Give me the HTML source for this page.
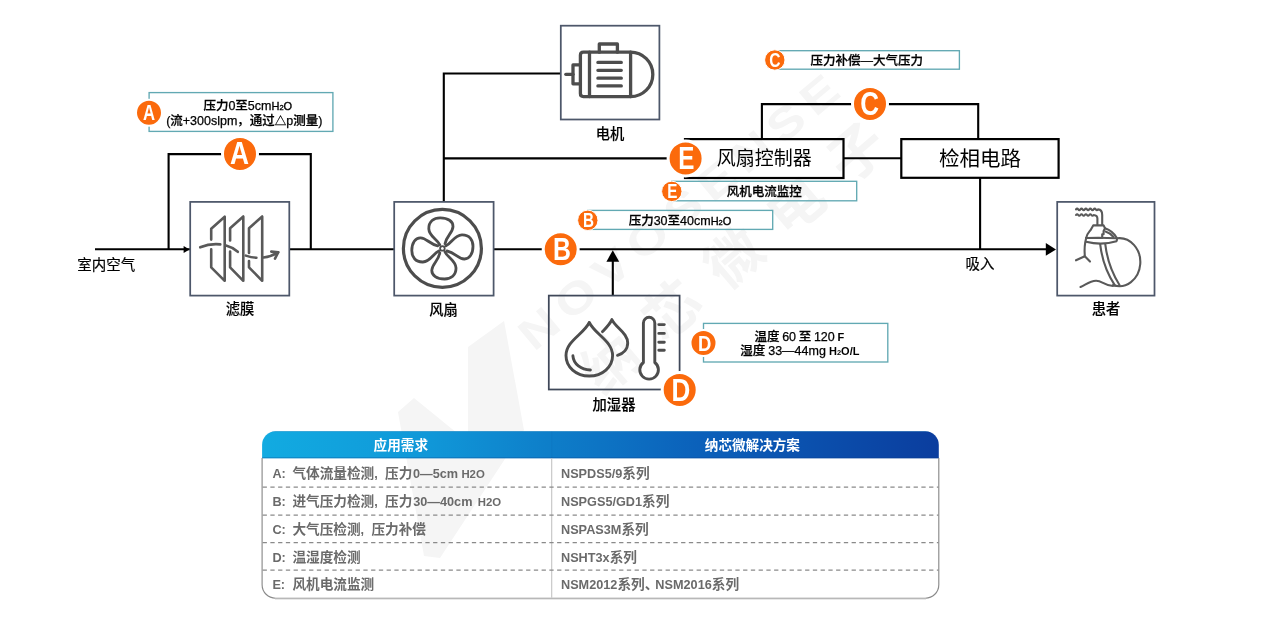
<!DOCTYPE html>
<html lang="zh-CN">
<head>
<meta charset="utf-8">
<title>呼吸机系统框图</title>
<style>
html,body{margin:0;padding:0;background:#fff;}
body{width:1269px;height:639px;overflow:hidden;position:relative;font-family:"Liberation Sans","Noto Sans CJK SC",sans-serif;}
svg{position:absolute;left:0;top:0;display:block;filter:blur(.4px);}
text{font-family:"Liberation Sans","Noto Sans CJK SC",sans-serif;}
.lbl{font-size:14.3px;font-weight:500;fill:#000;text-anchor:middle;stroke:#000;stroke-width:.15px;}
.lt{font-weight:400;font-size:14.5px;stroke-width:.2px;}
.big{font-size:20px;font-weight:400;fill:#000;text-anchor:middle;}
.note{font-size:12.5px;font-weight:500;fill:#000;text-anchor:middle;stroke:#000;stroke-width:.25px;}
.sub{font-size:11px;font-weight:400;stroke:#000;stroke-width:.35px;}
.s2{font-size:7.5px;}
.ln{stroke:#000;stroke-width:2.1;fill:none;}
.ibox{fill:none;stroke:#4d576a;stroke-width:1.75;}
.bbox{fill:none;stroke:#000;stroke-width:2.2;}
.nbox{fill:none;stroke:#62a9b3;stroke-width:1.35;}
.oc{fill:#fb6a0c;stroke:#fff;stroke-width:3;}
.oc.sm{stroke-width:2;}
.oc.xs{stroke-width:1;}
.ol{fill:#fff;font-weight:700;text-anchor:middle;}
.th{font-size:13.6px;font-weight:700;fill:#fff;text-anchor:middle;}
.td{font-size:13.65px;font-weight:700;fill:#6a6a6a;}
.la{font-size:12.7px;font-weight:700;stroke:none;}
.lh{font-size:11.4px;font-weight:700;stroke:none;}
.dash{stroke:#8a8a8a;stroke-width:1.2;stroke-dasharray:4.3 3.45;fill:none;}
.ico{fill:none;stroke:#555;stroke-width:2;stroke-linecap:round;stroke-linejoin:round;}
</style>
</head>
<body>
<svg width="1269" height="639" viewBox="0 0 1269 639">
<defs>
<linearGradient id="hg" x1="0" y1="0" x2="1" y2="0">
<stop offset="0" stop-color="#12abe1"/>
<stop offset="0.25" stop-color="#1097d8"/>
<stop offset="0.425" stop-color="#0e7ec9"/>
<stop offset="0.65" stop-color="#0b60ba"/>
<stop offset="1" stop-color="#0b3d9e"/>
</linearGradient>
<clipPath id="tclip"><rect x="262.1" y="431.2" width="676.7" height="167" rx="13.5" ry="13.5"/></clipPath>
</defs>

<!-- WATERMARK -->
<g id="wm" fill="#f5f5f5" style="font-weight:700">
<polygon points="398,412 414,398 468,442 468,347 504,321 524,430 440,558 424,556"/>
<text transform="translate(534 352.3) rotate(-39.8) scale(1.2 1)" font-size="44" letter-spacing="7">NOVOSENSE</text>
<text transform="translate(602.5 396.4) rotate(-40.5)" font-size="56" letter-spacing="25">纳芯微电子</text>
</g>

<!-- LINES -->
<g id="lines">
<path class="ln" d="M95 249.3H190"/>
<path class="ln" d="M168.6 249.3V154.1H310.8V249.3"/>
<path class="ln" d="M289.3 249.3H394.2"/>
<path class="ln" d="M493.6 249.3H1046.5"/>
<path class="ln" d="M443.8 201.9V73.5H560.8"/>
<path class="ln" d="M443.8 158.4H686"/>
<path class="ln" d="M843.5 158.3H901.3"/>
<path class="ln" d="M761.9 139V104.1H978.2V139"/>
<path class="ln" d="M980.1 177.8V249.3"/>
<path class="ln" d="M612.8 295.5V261"/>
<polygon points="183.6,245.9 189.6,249.4 183.6,252.9" fill="#000"/>
<polygon points="1045.8,243 1056,249.4 1045.8,255.8" fill="#000"/>
<polygon points="612.8,250.2 606.4,261.7 619.2,261.7" fill="#000"/>
</g>

<!-- BOXES -->
<g id="boxes">
<rect class="ibox" x="190.2" y="201.9" width="99.1" height="93.7"/>
<rect class="ibox" x="394.2" y="201.9" width="99.4" height="93.7"/>
<rect class="ibox" x="560.8" y="25.7" width="98.6" height="93.8"/>
<rect class="ibox" x="1057.2" y="201.9" width="97.3" height="93.7"/>
<rect class="ibox" x="548.8" y="295.6" width="130.8" height="93.9" style="stroke:#3f4859"/>
<rect class="bbox" x="685" y="139.1" width="158.5" height="38.9"/>
<rect class="bbox" x="901.3" y="139.1" width="157.3" height="38.7"/>
</g>

<!-- NOTES -->
<g id="notes">
<rect class="nbox" x="149.1" y="92.6" width="183.8" height="38.8"/>
<rect class="nbox" x="774.4" y="50.7" width="185" height="18.5"/>
<rect class="nbox" x="671.7" y="181.3" width="185" height="19.5"/>
<rect class="nbox" x="587.7" y="210.4" width="185" height="19"/>
<rect class="nbox" x="703.5" y="323.4" width="184.3" height="38.6"/>
</g>

<!-- CIRCLES -->
<g id="circles">
<circle class="oc" cx="240" cy="153.9" r="17.5"/>
<circle class="oc" cx="560.7" cy="249.3" r="17.5"/>
<circle class="oc" cx="870" cy="103.9" r="17.5"/>
<circle class="oc" cx="679.7" cy="389.9" r="17.5"/>
<circle class="oc" cx="685.6" cy="158.4" r="17.5"/>
<circle class="oc sm" cx="149" cy="112.8" r="13"/>
<circle class="oc xs" cx="774.8" cy="60" r="10.2"/>
<circle class="oc xs" cx="671.8" cy="191.4" r="10.2"/>
<circle class="oc xs" cx="587.8" cy="220.3" r="10.2"/>
<circle class="oc sm" cx="703.5" cy="343.1" r="13"/>
</g>

<!-- TEXT -->
<g id="texts">
<g class="ol" font-size="31">
<text transform="translate(239.6 164) scale(.85 1)">A</text>
<text transform="translate(562 260.3) scale(.8 1)">B</text>
<text transform="translate(869.7 115.2) scale(.84 1.06)">C</text>
<text transform="translate(681 400.9) scale(.84 1)">D</text>
<text transform="translate(686.4 169) scale(.78 1)">E</text>
</g>
<g class="ol" font-size="22">
<text transform="translate(149 119.8) scale(.76 1)">A</text>
<text transform="translate(704.6 351) scale(.84 1.02)">D</text>
</g>
<g class="ol" font-size="19.5">
<text transform="translate(774.8 66.8) scale(.8 1)">C</text>
<text transform="translate(672.2 198.2) scale(.78 1)">E</text>
<text transform="translate(588.4 227.1) scale(.78 1)">B</text>
</g>

<text class="lbl lt" x="106.3" y="270">室内空气</text>
<text class="lbl" x="240" y="313.5">滤膜</text>
<text class="lbl" x="443.5" y="314.5">风扇</text>
<text class="lbl" x="610" y="139">电机</text>
<text class="lbl" x="614" y="409.5">加湿器</text>
<text class="lbl lt" x="980" y="268.8">吸入</text>
<text class="lbl" x="1106" y="314">患者</text>
<text class="big" x="764.2" y="165.3" style="font-size:19px">风扇控制器</text>
<text class="big" x="980.1" y="165.7" style="font-size:20.5px">检相电路</text>

<text class="note" x="247.8" y="109.7">压力0至5cm<tspan class="sub">H<tspan class="s2">2</tspan>O</tspan></text>
<text class="note" x="244.3" y="125">(流+300slpm，通过<tspan style="font-size:11.5px">△</tspan>p测量)</text>
<text class="note" x="866.7" y="64.5">压力补偿—大气压力</text>
<text class="note" x="764.2" y="195.5">风机电流监控</text>
<text class="note" x="680" y="224.5">压力30至40cm<tspan class="sub">H<tspan class="s2">2</tspan>O</tspan></text>
<text class="note" x="799.3" y="340.6" style="word-spacing:-.8px">温度 60 至 120 <tspan class="sub" style="font-weight:700;stroke:none">F</tspan></text>
<text class="note" x="799.8" y="355.2" style="word-spacing:-.4px">湿度 33—44mg <tspan class="sub" style="font-weight:700;stroke:none">H<tspan class="s2">2</tspan>O/L</tspan></text>
</g>

<!-- TABLE -->
<g id="table">

<g clip-path="url(#tclip)">
<rect x="261" y="431" width="679" height="27.3" fill="url(#hg)"/>
<rect x="261" y="431" width="679" height="1" fill="#0a6fb0" opacity=".35"/>
<rect x="261" y="457.3" width="679" height="1" fill="#083a8a" opacity=".35"/>
<rect x="551.2" y="431" width="1" height="27.3" fill="#0a3a80" opacity=".07"/>
</g>
<path d="M262.1 458V584.7A13.5 13.5 0 0 0 275.6 598.2H925.3A13.5 13.5 0 0 0 938.8 584.7V458" fill="none" stroke="#8a8a8a" stroke-width="1.15"/>
<path d="M275 599.2H926" fill="none" stroke="#dedede" stroke-width="1"/>
<path d="M551.7 458.3V597.7" stroke="#c4c4c4" stroke-width="1.1" fill="none"/>
<path class="dash" d="M262.6 487.1H938.5M262.6 515.1H938.5M262.6 542.7H938.5M262.6 570.1H938.5"/>
<text class="th" x="400.8" y="450.2">应用需求</text>
<text class="th" x="752.4" y="450.2">纳芯微解决方案</text>
<text class="td" y="478.4"><tspan class="la" x="272.4">A:</tspan><tspan x="292.4">气体流量检测<tspan class="la">,</tspan></tspan><tspan x="385">压力</tspan><tspan class="la" x="413">0—5cm</tspan><tspan class="lh" x="461.4">H2O</tspan></text>
<text class="td" y="506.2"><tspan class="la" x="272.4">B:</tspan><tspan x="292.4">进气压力检测<tspan class="la">,</tspan></tspan><tspan x="385">压力</tspan><tspan class="la" x="413.2">30—40cm</tspan><tspan class="lh" x="477.8">H2O</tspan></text>
<text class="td" y="534"><tspan class="la" x="272.4">C:</tspan><tspan x="292.4">大气压检测<tspan class="la">,</tspan></tspan><tspan x="371.4">压力补偿</tspan></text>
<text class="td" y="561.7"><tspan class="la" x="272.4">D:</tspan><tspan x="292.4">温湿度检测</tspan></text>
<text class="td" y="589.3"><tspan class="la" x="272.4">E:</tspan><tspan x="292.4">风机电流监测</tspan></text>
<text class="td" x="561" y="478.4"><tspan class="la">NSPDS5/9</tspan>系列</text>
<text class="td" x="561" y="506.2"><tspan class="la">NSPGS5/GD1</tspan>系列</text>
<text class="td" x="561" y="534"><tspan class="la">NSPAS3M</tspan>系列</text>
<text class="td" x="561" y="561.7"><tspan class="la">NSHT3x</tspan>系列</text>
<text class="td" x="561" y="589.3"><tspan class="la">NSM2012</tspan>系列、<tspan class="la" dx="-3">NSM2016</tspan>系列</text>
</g>

<!-- ICONS -->
<g id="icons">
<!-- filter -->
<g class="ico" style="stroke-width:2.6;stroke:#595959">
<path d="M211.2 239.6V228.7L224.7 216.7V280.8L211.2 267.3V249.4"/>
<path d="M230.1 240.5V228.2L243.3 216.5V280.8L230.1 267.3V251.5"/>
<path d="M249 253V228.2L262.2 216.5V280.8L249 267.3V261"/>
<path d="M200.2 247.3Q210 243.3 220.3 244.4"/>
<path d="M226 245.6Q232.5 247.3 237.8 251.8"/>
<path d="M245.8 255.6Q251 257.6 256.4 257.8"/>
<path d="M263.5 257.5Q271 256.6 278 252.3"/>
<path d="M271.3 251.6L278.3 252.2L275 258.6"/>
</g>
<!-- fan -->
<g class="ico" style="stroke:#4d4d4d">
<circle cx="442.4" cy="248.4" r="39" style="stroke-width:3.2"/>
<g transform="translate(442.4 248.4)" style="stroke-width:2.8">
<path d="M-2.6 -3.6C-5 -9 -13.3 -12 -13.6 -19.5C-13.8 -27 -8.5 -30.6 -2.2 -30.6C5.5 -30.6 10.8 -27 10.6 -21.8C10.3 -15.5 4.2 -13 2.6 -4.6"/>
<path d="M-2.6 -3.6C-5 -9 -13.3 -12 -13.6 -19.5C-13.8 -27 -8.5 -30.6 -2.2 -30.6C5.5 -30.6 10.8 -27 10.6 -21.8C10.3 -15.5 4.2 -13 2.6 -4.6" transform="rotate(90)"/>
<path d="M-2.6 -3.6C-5 -9 -13.3 -12 -13.6 -19.5C-13.8 -27 -8.5 -30.6 -2.2 -30.6C5.5 -30.6 10.8 -27 10.6 -21.8C10.3 -15.5 4.2 -13 2.6 -4.6" transform="rotate(180)"/>
<path d="M-2.6 -3.6C-5 -9 -13.3 -12 -13.6 -19.5C-13.8 -27 -8.5 -30.6 -2.2 -30.6C5.5 -30.6 10.8 -27 10.6 -21.8C10.3 -15.5 4.2 -13 2.6 -4.6" transform="rotate(270)"/>
<circle cx="0" cy="0" r="2.3" style="fill:#fff;stroke-width:1.8"/>
</g>
</g>
<!-- motor -->
<g class="ico" style="stroke:#4d4d4d;stroke-width:3.3">
<path d="M630.6 52.2H583.4Q580.4 52.2 580.4 55.2V93.6Q580.4 96.6 583.4 96.6H630.6"/>
<path d="M630.6 52.2A22.2 22.2 0 0 1 630.6 96.6Z"/>
<path d="M589.5 52.2V96.6"/>
<path d="M599.3 52.2V44H617.4V52.2"/>
<path d="M580.4 64.9H573V83.8H580.4"/>
<path d="M565.8 74.3H573"/>
<path d="M597.9 62.4H621.3M597.9 70.3H621.3M597.9 78.2H621.3M597.9 85.9H621.3"/>
</g>
<!-- humidifier -->
<g class="ico" style="stroke:#4d4d4d;stroke-width:2.9">
<path d="M589.3 322.4C584 334 566 341 566 355.5C566 367 576 376 589.3 376C602.5 376 612.6 367 612.6 355.5C612.6 341 594.5 334 589.3 322.4Z"/>
<path d="M572.9 355.8C573.5 364 581 369.5 590.4 370"/>
<path d="M602.5 331.6C606 328 610 324 611.9 319.6C616 328 627.7 333 627.7 343C627.7 349 623.5 353.5 617.5 355.3"/>
<path d="M643.4 362.5V323A5.7 5.7 0 0 1 654.8 323V362.5A9.3 9.3 0 1 1 643.4 362.5Z"/>
<path d="M658.8 324.6H664.3M658.8 333.4H664.3M658.8 342.2H664.3M658.8 350.3H664.3"/>
</g>
<!-- patient -->
<g class="ico" style="stroke:#595959;stroke-width:2.1">
<path d="M1076 209.4q1.1 -1.6 2.2 0t2.2 0t2.2 0t2.2 0t2.2 0t2.2 0t2.2 0t2.2 0t2.2 0t2.2 0Q1102.2 209.6 1102.2 215V225"/>
<path d="M1076 215q1.1 -1.6 2.2 0t2.2 0t2.2 0t2.2 0t2.2 0t2.2 0t2.2 0t2.2 0Q1097.4 215.2 1097.4 218.5V225"/>
<path d="M1086.2 237.8C1087 233 1090 231.5 1091.2 229L1093.2 225.4H1103.6L1105 228.2L1103.6 231V234.3H1102.2V238H1087"/>
<path d="M1105 228.2C1110 230 1114 233 1116.5 237.5"/>
<path d="M1105.5 231.5C1109 232.5 1111.5 234.5 1113.5 237"/>
<path d="M1086.2 238C1095 237.6 1108 237.8 1116.7 238.2C1117.2 239.5 1117 240.5 1116.5 241.2C1107 244.2 1095 244 1086 241.8"/>
<path d="M1116.7 238.3A21 24 0 1 1 1113 285"/>
<path d="M1100.2 244.3C1102 260 1108 275 1115 285.6"/>
<path d="M1105.3 244.3C1107 259 1112 273 1119.5 285"/>
<path d="M1086.2 238C1084.5 244 1084.3 250 1084.8 256.2"/>
<path d="M1076 260.3L1084.8 256.2L1090 261.6"/>
<path d="M1080.5 287C1086 284.5 1090 281 1096 280.7C1102 280.5 1104 285.5 1113 286"/>
</g>
</g>
</svg>
</body>
</html>
